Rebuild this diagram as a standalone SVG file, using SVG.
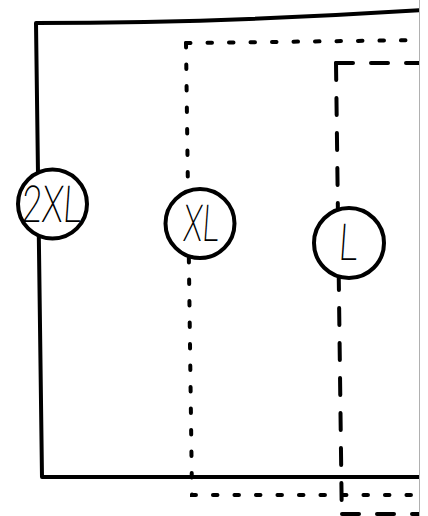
<svg xmlns="http://www.w3.org/2000/svg" width="428" height="516" viewBox="0 0 428 516">
  <style>
    .solid { fill: none; stroke: #000; stroke-width: 4; stroke-linejoin: round; }
    .dotted { fill: none; stroke: #000; stroke-width: 4; stroke-linecap: round; stroke-dasharray: 4.5 17; }
    .dashed { fill: none; stroke: #000; stroke-width: 4; stroke-linecap: round; stroke-dasharray: 17 18; }
    .node circle { fill: #fff; stroke: #000; stroke-width: 4; }
    .node text { font-family: Roboto, "Liberation Sans", sans-serif; font-weight: 200; font-size: 51px; fill: #000; text-anchor: middle; }
  </style>
  <defs>
    <clipPath id="clip"><rect x="0" y="0" width="419" height="516"/></clipPath>
  </defs>
  <rect width="428" height="516" fill="#fff"/>
  <g clip-path="url(#clip)">
    <g id="connectors">
      <path class="solid" d="M 440,9 Q 230,23 36,23 L 42,477 L 440,477"/>
      <path class="dotted" d="M 186,43 L 430,40"/>
      <path class="dotted" d="M 186,43 L 192,495 L 430,495"/>
      <path class="dashed" d="M 336,63 L 430,63"/>
      <path class="dashed" d="M 336,63 L 342,530"/>
      <path class="dashed" d="M 342,514 L 430,514"/>
    </g>
    <g id="node-2xl" class="node">
      <circle cx="52.5" cy="204" r="34.5"/>
      <text x="51" y="222" textLength="60" lengthAdjust="spacingAndGlyphs" transform="translate(15.5 0) skewX(-4)">2XL</text>
    </g>
    <g id="node-xl" class="node">
      <circle cx="200" cy="223.5" r="34.5"/>
      <text x="200" y="241" textLength="36" lengthAdjust="spacingAndGlyphs" transform="translate(17 0) skewX(-4)">XL</text>
    </g>
    <g id="node-l" class="node">
      <circle cx="349" cy="243" r="35"/>
      <text x="347.5" y="260" textLength="19" lengthAdjust="spacingAndGlyphs" transform="translate(18.2 0) skewX(-4)">L</text>
    </g>
  </g>
  <line x1="419.5" y1="0" x2="419.5" y2="516" stroke="#b0b0b0" stroke-width="1"/>
</svg>
